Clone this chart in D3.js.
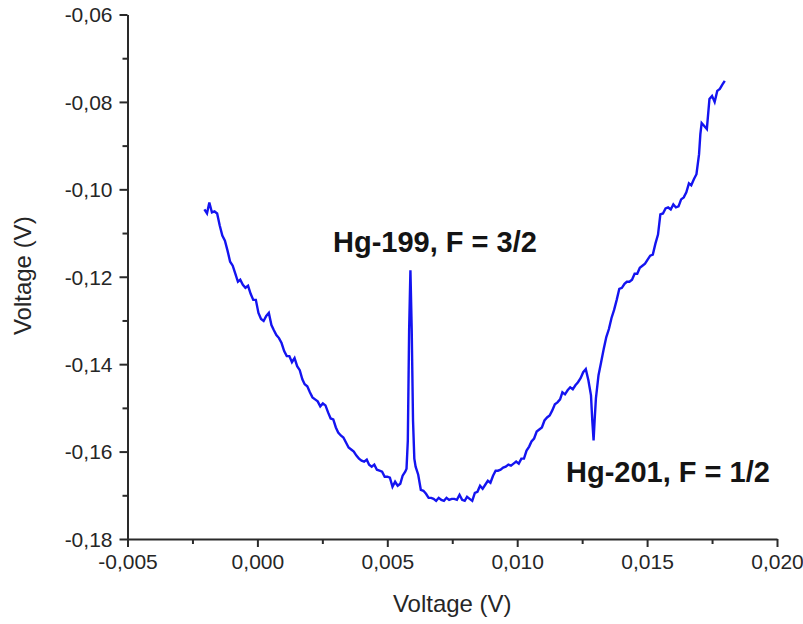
<!DOCTYPE html>
<html>
<head>
<meta charset="utf-8">
<script src="https://cdn.jsdelivr.net/npm/d3@7"></script>
<style>
  html, body { margin: 0; padding: 0; background: #ffffff; }
  svg { display: block; }
  text { font-family: "Liberation Sans", Arial, sans-serif; }
</style>
</head>
<body>
<svg id="chart" width="803" height="624"></svg>
<script>
// ---- data ----
const voltageX = [
  -0.00204, -0.00194, -0.00185, -0.00175, -0.00165, -0.00155, -0.00145, -0.00135, -0.00125, -0.00115,
  -0.00105, -0.00095, -0.00085, -0.00075, -0.00066, -0.00056, -0.00046, -0.00036, -0.00026, -0.00016,
  -0.00006, 0.00004, 0.00014, 0.00024, 0.00034, 0.00044, 0.00054, 0.00063, 0.00073, 0.00083,
  0.00093, 0.00103, 0.00113, 0.00123, 0.00133, 0.00143, 0.00153, 0.00163, 0.00173, 0.00182,
  0.00192, 0.00202, 0.00212, 0.00222, 0.00232, 0.00242, 0.00252, 0.00262, 0.00272, 0.00282,
  0.00292, 0.00302, 0.00311, 0.00321, 0.00331, 0.00341, 0.00351, 0.00361, 0.00371, 0.00381,
  0.00391, 0.00401, 0.00411, 0.00421, 0.00430, 0.00440, 0.00450, 0.00460, 0.00470, 0.00480,
  0.00490, 0.00500, 0.00510, 0.00520, 0.00530, 0.00540, 0.00550, 0.00559, 0.00569, 0.00574,
  0.00579, 0.00584, 0.00589, 0.00594, 0.00599, 0.00604, 0.00609, 0.00619, 0.00629, 0.00639,
  0.00649, 0.00659, 0.00669, 0.00678, 0.00688, 0.00698, 0.00708, 0.00718, 0.00728, 0.00738,
  0.00748, 0.00758, 0.00768, 0.00778, 0.00788, 0.00798, 0.00807, 0.00817, 0.00827, 0.00837,
  0.00847, 0.00857, 0.00867, 0.00877, 0.00887, 0.00897, 0.00907, 0.00917, 0.00926, 0.00936,
  0.00946, 0.00956, 0.00966, 0.00976, 0.00986, 0.00996, 0.01006, 0.01016, 0.01026, 0.01036,
  0.01046, 0.01055, 0.01065, 0.01075, 0.01085, 0.01095, 0.01105, 0.01115, 0.01125, 0.01135,
  0.01145, 0.01155, 0.01165, 0.01174, 0.01184, 0.01194, 0.01204, 0.01214, 0.01224, 0.01234,
  0.01244, 0.01254, 0.01264, 0.01274, 0.01284, 0.01289, 0.01294, 0.01298, 0.01303, 0.01313,
  0.01323, 0.01333, 0.01343, 0.01353, 0.01363, 0.01373, 0.01383, 0.01393, 0.01403, 0.01413,
  0.01422, 0.01432, 0.01442, 0.01452, 0.01462, 0.01472, 0.01482, 0.01492, 0.01502, 0.01512,
  0.01522, 0.01532, 0.01542, 0.01551, 0.01561, 0.01571, 0.01581, 0.01591, 0.01601, 0.01611,
  0.01621, 0.01631, 0.01641, 0.01651, 0.01661, 0.01670, 0.01680, 0.01690, 0.01700, 0.01705,
  0.01710, 0.01720, 0.01730, 0.01740, 0.01750, 0.01760, 0.01770, 0.01780, 0.01789, 0.01799
];
const signalY = [
  -0.10460, -0.10552, -0.10300, -0.10529, -0.10506, -0.10552, -0.10828, -0.11058, -0.11173, -0.11402,
  -0.11655, -0.11747, -0.11931, -0.12115, -0.12069, -0.12184, -0.12253, -0.12207, -0.12391, -0.12529,
  -0.12529, -0.12828, -0.12966, -0.13012, -0.12897, -0.12828, -0.13104, -0.13219, -0.13334, -0.13403,
  -0.13517, -0.13701, -0.13816, -0.13816, -0.13954, -0.13862, -0.14046, -0.14138, -0.14345, -0.14460,
  -0.14506, -0.14644, -0.14759, -0.14805, -0.14851, -0.14966, -0.14897, -0.14943, -0.15104, -0.15242,
  -0.15265, -0.15448, -0.15563, -0.15632, -0.15678, -0.15793, -0.15908, -0.15954, -0.16000, -0.16092,
  -0.16161, -0.16207, -0.16230, -0.16184, -0.16299, -0.16345, -0.16299, -0.16414, -0.16437, -0.16460,
  -0.16575, -0.16575, -0.16598, -0.16805, -0.16690, -0.16782, -0.16736, -0.16552, -0.16460, -0.16391,
  -0.15747, -0.13219, -0.11850, -0.13219, -0.15288, -0.16161, -0.16345, -0.16529, -0.16874, -0.16897,
  -0.16966, -0.17058, -0.17058, -0.17081, -0.17127, -0.17058, -0.17104, -0.17127, -0.17058, -0.17104,
  -0.17081, -0.17081, -0.17104, -0.16989, -0.17104, -0.17127, -0.17035, -0.17081, -0.17127, -0.16943,
  -0.16920, -0.16782, -0.16851, -0.16759, -0.16667, -0.16713, -0.16552, -0.16437, -0.16437, -0.16414,
  -0.16368, -0.16345, -0.16299, -0.16322, -0.16276, -0.16230, -0.16276, -0.16161, -0.16161, -0.15977,
  -0.15885, -0.15770, -0.15701, -0.15540, -0.15494, -0.15448, -0.15288, -0.15219, -0.15173, -0.15058,
  -0.14920, -0.14874, -0.14805, -0.14644, -0.14690, -0.14598, -0.14529, -0.14575, -0.14483, -0.14414,
  -0.14322, -0.14184, -0.14115, -0.14368, -0.14713, -0.15288, -0.15747, -0.15288, -0.14782, -0.14253,
  -0.13954, -0.13655, -0.13380, -0.13196, -0.12943, -0.12759, -0.12529, -0.12276, -0.12253, -0.12161,
  -0.12115, -0.12115, -0.12069, -0.11931, -0.11931, -0.11793, -0.11747, -0.11701, -0.11609, -0.11517,
  -0.11494, -0.11242, -0.11035, -0.10575, -0.10552, -0.10437, -0.10414, -0.10460, -0.10345, -0.10414,
  -0.10391, -0.10230, -0.10184, -0.10069, -0.09862, -0.09908, -0.09770, -0.09655, -0.09196, -0.08736,
  -0.08483, -0.08552, -0.08621, -0.07931, -0.07862, -0.08000, -0.07747, -0.07701, -0.07609, -0.07517
];
const xMajorTicks = [-0.005, 0.000, 0.005, 0.010, 0.015, 0.020];
const xMinorTicks = [-0.0025, 0.0025, 0.0075, 0.0125, 0.0175];
const yMajorTicks = [-0.18, -0.16, -0.14, -0.12, -0.10, -0.08, -0.06];
const yMinorTicks = [-0.17, -0.15, -0.13, -0.11, -0.09, -0.07];
const xDomain = [-0.005, 0.020];
const yDomain = [-0.18, -0.06];
const axisTitleX = "Voltage (V)";
const axisTitleY = "Voltage (V)";
const peakLabels = [
  { text: "Hg-199, F = 3/2", x: 0.00291, y: -0.1144 },
  { text: "Hg-201, F = 1/2", x: 0.01188, y: -0.1669 }
];

// ---- drawing ----
const W = 803, H = 624;
const margin = { left: 127.5, right: 26, top: 14.5, bottom: 85 };
const svg = d3.select("#chart");

const x = d3.scaleLinear().domain(xDomain).range([margin.left, W - margin.right]);
const y = d3.scaleLinear().domain(yDomain).range([H - margin.bottom, margin.top]);

const fmt3 = v => d3.format(".3f")(v).replace(".", ",").replace("−", "-");
const fmt2 = v => d3.format(".2f")(v).replace(".", ",").replace("−", "-");

const axisColor = "#2a2a2a";
const labelColor = "#262626";

// trace
const pts = voltageX.map((vx, i) => [vx, signalY[i]]);
const line = d3.line().x(d => x(d[0])).y(d => y(d[1]));
svg.append("path")
  .datum(pts)
  .attr("d", line)
  .attr("fill", "none")
  .attr("stroke", "#1414f0")
  .attr("stroke-width", 2.4)
  .attr("stroke-linejoin", "miter");

// bottom axis
const gx = svg.append("g").attr("transform", `translate(0,${y(yDomain[0])})`)
  .call(d3.axisBottom(x).tickValues(xMajorTicks).tickFormat(fmt3).tickSize(8).tickSizeOuter(0));
const gxm = svg.append("g").attr("transform", `translate(0,${y(yDomain[0])})`)
  .call(d3.axisBottom(x).tickValues(xMinorTicks).tickFormat("").tickSize(5).tickSizeOuter(0));
gxm.select(".domain").remove();

// left axis
const gy = svg.append("g").attr("transform", `translate(${x(xDomain[0])},0)`)
  .call(d3.axisLeft(y).tickValues(yMajorTicks).tickFormat(fmt2).tickSize(8).tickSizeOuter(0));
const gym = svg.append("g").attr("transform", `translate(${x(xDomain[0])},0)`)
  .call(d3.axisLeft(y).tickValues(yMinorTicks).tickFormat("").tickSize(5).tickSizeOuter(0));
gym.select(".domain").remove();

[gx, gxm, gy, gym].forEach(g => {
  g.selectAll(".domain").attr("stroke", axisColor).attr("stroke-width", 2);
  g.selectAll(".tick line").attr("stroke", axisColor).attr("stroke-width", 2);
});
gx.selectAll(".tick text")
  .attr("fill", labelColor).attr("font-size", 21)
  .attr("font-family", "Liberation Sans, Arial, sans-serif")
  .attr("dy", "0.71em").attr("y", 15);
gy.selectAll(".tick text")
  .attr("fill", labelColor).attr("font-size", 21)
  .attr("font-family", "Liberation Sans, Arial, sans-serif")
  .attr("x", -15).attr("dy", "0.35em");

// axis titles
svg.append("text")
  .attr("x", (x(xDomain[0]) + x(xDomain[1])) / 2)
  .attr("y", 612)
  .attr("text-anchor", "middle")
  .attr("font-size", 24)
  .attr("fill", labelColor)
  .text(axisTitleX);

svg.append("text")
  .attr("transform", `translate(31,${(y(yDomain[0]) + y(yDomain[1])) / 2 - 1}) rotate(-90)`)
  .attr("text-anchor", "middle")
  .attr("font-size", 24)
  .attr("fill", labelColor)
  .text(axisTitleY);

// peak annotations
svg.selectAll("text.peak")
  .data(peakLabels)
  .join("text")
  .attr("class", "peak")
  .attr("x", d => x(d.x))
  .attr("y", d => y(d.y))
  .attr("font-size", 29)
  .attr("font-weight", "bold")
  .attr("fill", "#141414")
  .text(d => d.text);
</script>
</body>
</html>
